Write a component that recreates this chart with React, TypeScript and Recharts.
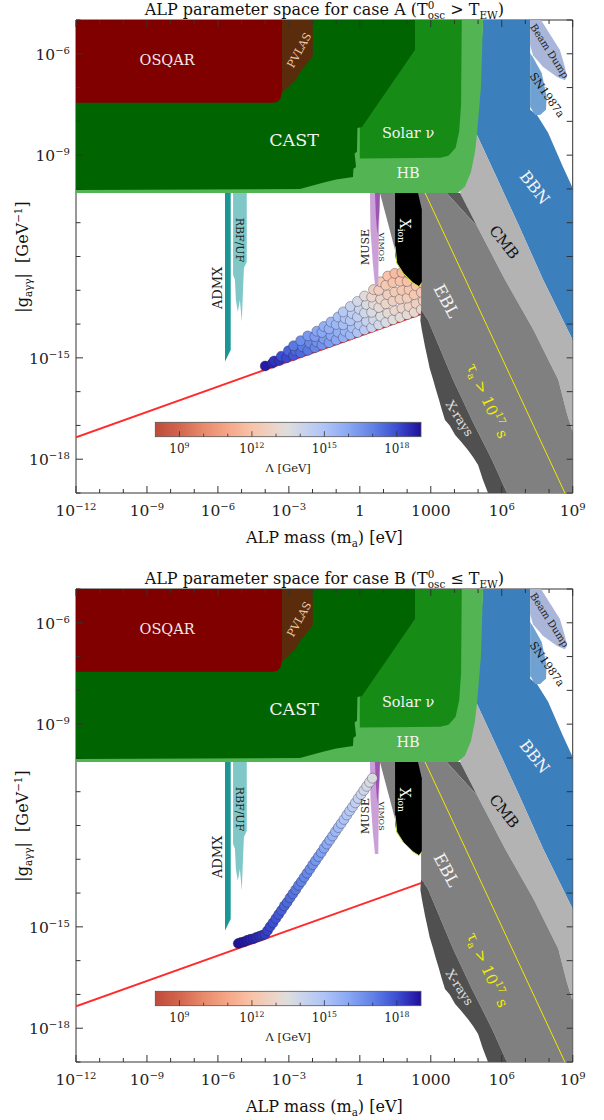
import React from 'react';
import { ScatterChart, Scatter, XAxis, YAxis, ReferenceLine } from 'recharts';

// all values are log10: x = log10(m_a / eV), y = log10(|g| / GeV^-1)
type Pt = [number, number];
type Dot = [number, number, number]; // log m, log g, log Lambda

const X_TICKS = [-12, -11, -10, -9, -8, -7, -6, -5, -4, -3, -2, -1, 0, 1, 2, 3, 4, 5, 6, 7, 8, 9];
const Y_TICKS = [-19, -18, -17, -16, -15, -14, -13, -12, -11, -10, -9, -8, -7, -6, -5];
const X_LABELED = [-12, -9, -6, -3, 0, 3, 6, 9];
const Y_LABELED = [-18, -15, -9, -6];
const LAMBDA_TICKS = [9, 12, 15, 18];
const LAMBDA_MIN = 8;
const LAMBDA_MAX = 19;

// excluded regions
const HB: Pt[] = [[-12, -5], [5.21, -5], [5.12, -7.0], [4.96, -8.34], [4.87, -8.9], [4.7, -9.5], [4.45, -9.92], [4.15, -10.12], [-12, -10.12]];
const SOLAR: Pt[] = [[1.0, -5], [4.31, -5], [4.28, -7.5], [4.2, -8.3], [4.05, -8.78], [3.75, -9.02], [3.4, -9.08], [0.0, -9.1], [0.0, -5]];
const CAST: Pt[] = [[-12, -5], [2.33, -5], [2.33, -5.89], [0.09, -8.17], [-0.1, -8.2], [-0.12, -8.9], [-0.22, -8.95], [-0.16, -9.35], [-0.27, -9.4], [-0.29, -9.65], [-1.0, -9.72], [-1.56, -9.82], [-2.53, -10.0], [-12, -10.03]];
const OSQAR: Pt[] = [[-12, -5], [-3.29, -5], [-3.29, -7.1], [-3.36, -7.33], [-3.5, -7.43], [-3.7, -7.45], [-12, -7.45]];
const PVLAS: Pt[] = [[-3.29, -5], [-1.99, -5], [-1.99, -6.07], [-2.3, -6.35], [-2.53, -6.54], [-2.65, -6.7], [-2.78, -6.83], [-2.9, -6.88], [-3.04, -7.01], [-3.15, -7.05], [-3.29, -7.16]];
const BBN: Pt[] = [[5.21, -5], [7.2, -5], [7.2, -7.66], [7.49, -7.81], [7.96, -8.34], [8.59, -9.35], [9, -9.97], [9, -14.47], [7.75, -12.69], [6.77, -11.16], [5.84, -9.74], [4.91, -8.34], [5.05, -6.8]];
const BEAM_DUMP: Pt[] = [[7.2, -5], [7.66, -5], [8.46, -5.89], [8.67, -6.39], [8.76, -6.69], [8.67, -6.78], [8.34, -6.69], [7.75, -6.39], [7.32, -6.04], [7.2, -5.74]];
const SN1987A: Pt[] = [[7.2, -5.98], [7.32, -6.1], [7.69, -6.57], [7.9, -7.27], [7.87, -7.66], [7.62, -7.81], [7.41, -7.81], [7.2, -7.57]];
const CMB: Pt[] = [[4.7, -8.4], [4.91, -8.34], [5.84, -9.74], [6.77, -11.16], [7.75, -12.69], [9, -14.47], [9, -17.2], [8.75, -16.63], [8.39, -15.65], [7.34, -14.17], [6.14, -12.69], [4.97, -11.12], [4.24, -10.12], [4.4, -9.6]];
const STRIP: Pt[] = [[3.67, -10.12], [4.24, -10.12], [4.97, -11.12]];
const EBL: Pt[] = [[0.85, -10.12], [3.67, -10.12], [4.97, -11.12], [6.14, -12.69], [7.34, -14.17], [8.39, -15.65], [8.75, -16.63], [9, -17.2], [9, -19], [6.22, -19], [5.59, -18.02], [4.74, -16.84], [3.94, -15.65], [2.88, -13.88], [2.59, -13.58], [2.59, -12.84], [1.49, -11.81]];
const XRAYS: Pt[] = [[2.59, -13.58], [2.88, -13.88], [3.94, -15.65], [4.74, -16.84], [5.59, -18.02], [6.22, -19], [5.42, -19], [5.2, -18.6], [5.0, -18.17], [4.8, -17.95], [4.57, -17.73], [4.3, -17.5], [4.03, -17.28], [3.8, -17.0], [3.6, -16.84], [3.45, -16.5], [3.35, -16.25], [3.2, -15.9], [3.1, -15.65], [2.95, -15.3], [2.88, -15.06], [2.76, -14.68], [2.62, -14.17], [2.56, -13.9]];
const XION: Pt[] = [[1.49, -10.12], [2.46, -10.12], [2.62, -10.6], [2.62, -12.75], [2.5, -12.89], [2.25, -12.78], [1.83, -12.49], [1.56, -12.19], [1.49, -11.95]];
const XION_EDGE: Pt[] = [[1.49, -11.7], [1.56, -12.19], [1.83, -12.49], [2.25, -12.78], [2.5, -12.89], [2.62, -12.8]];
const MUSE: Pt[] = [[0.43, -10.12], [0.85, -10.12], [0.8, -11.6], [0.78, -12.84], [0.64, -12.84], [0.55, -12.2], [0.45, -11.2]];
const VIMOS: Pt[] = [[0.64, -10.12], [0.85, -10.12], [0.82, -10.7], [0.74, -11.35], [0.68, -10.8]];
const ADMX: Pt[] = [[-5.7, -10.12], [-5.46, -10.12], [-5.46, -14.77], [-5.7, -15.11]];
const RBF_UF: Pt[] = [[-5.36, -10.12], [-4.78, -10.12], [-4.78, -12.16], [-4.9, -12.34], [-4.94, -13.0], [-4.99, -13.93], [-5.07, -13.29], [-5.16, -13.64], [-5.24, -13.29], [-5.28, -12.69], [-5.36, -12.55]];

// lines
const MISALIGN_LINE: Pt[] = [[-12, -17.35], [2.85, -13.64]];
const LIFETIME_LINE: Pt[] = [[2.76, -10.12], [8.67, -19]];

// case A points
const POINTS_A: Dot[] = [
  [-4.0, -15.24, 18.8],
  [-3.7, -15.16, 18.6], [-3.62, -15.09, 18.4],
  [-3.4, -15.08, 18.4], [-3.32, -14.95, 18.0],
  [-3.1, -15.0, 18.1], [-3.02, -14.79, 17.6],
  [-2.8, -14.93, 17.8], [-2.72, -14.78, 17.5], [-2.8, -14.64, 17.2],
  [-2.5, -14.85, 17.5], [-2.42, -14.67, 17.1], [-2.5, -14.49, 16.7],
  [-2.2, -14.78, 17.2], [-2.12, -14.56, 16.8], [-2.2, -14.35, 16.4],
  [-1.9, -14.7, 16.9], [-1.82, -14.53, 16.6], [-1.9, -14.37, 16.3], [-1.82, -14.21, 16.0],
  [-1.6, -14.62, 16.6], [-1.52, -14.44, 16.3], [-1.6, -14.25, 16.0], [-1.52, -14.07, 15.7],
  [-1.3, -14.55, 16.3], [-1.22, -14.34, 16.0], [-1.3, -14.14, 15.7], [-1.22, -13.94, 15.4],
  [-1.0, -14.47, 16.0], [-0.92, -14.24, 15.7], [-1.0, -14.01, 15.4], [-0.92, -13.79, 15.1],
  [-0.7, -14.4, 15.7], [-0.62, -14.21, 15.45], [-0.7, -14.02, 15.2], [-0.62, -13.83, 14.95], [-0.7, -13.64, 14.7],
  [-0.4, -14.32, 15.4], [-0.32, -14.11, 15.1], [-0.4, -13.9, 14.8], [-0.32, -13.69, 14.5], [-0.4, -13.48, 14.2],
  [-0.1, -14.25, 15.0], [-0.02, -14.02, 14.7], [-0.1, -13.79, 14.4], [-0.02, -13.56, 14.1], [-0.1, -13.33, 13.8],
  [0.2, -14.17, 14.6], [0.28, -13.92, 14.2], [0.2, -13.67, 13.9], [0.28, -13.42, 13.6], [0.2, -13.17, 13.3],
  [0.5, -14.1, 14.2], [0.58, -13.87, 13.9], [0.5, -13.65, 13.6], [0.58, -13.42, 13.3], [0.5, -13.2, 13.0], [0.58, -12.98, 12.7],
  [0.8, -14.02, 13.9], [0.88, -13.77, 13.5], [0.8, -13.51, 13.2], [0.88, -13.26, 12.9], [0.8, -13.0, 12.6], [0.88, -12.75, 12.3],
  [1.1, -13.95, 13.6], [1.18, -13.68, 13.2], [1.1, -13.4, 12.9], [1.18, -13.13, 12.6], [1.1, -12.85, 12.3], [1.18, -12.58, 12.0],
  [1.4, -13.87, 13.4], [1.48, -13.6, 13.0], [1.4, -13.32, 12.7], [1.48, -13.05, 12.4], [1.4, -12.77, 12.1], [1.48, -12.5, 11.8],
  [1.7, -13.8, 13.3], [1.78, -13.53, 12.9], [1.7, -13.26, 12.6], [1.78, -13.0, 12.3], [1.7, -12.73, 12.0], [1.78, -12.47, 11.7],
  [2.0, -13.72, 13.2], [2.08, -13.48, 12.8], [2.0, -13.23, 12.5], [2.08, -12.98, 12.2], [2.0, -12.74, 11.9], [2.08, -12.5, 11.6],
  [2.3, -13.65, 13.1], [2.38, -13.39, 12.7], [2.3, -13.13, 12.3], [2.38, -12.87, 12.0], [2.3, -12.61, 11.7],
  [2.6, -13.57, 13.0], [2.68, -13.31, 12.6], [2.6, -13.06, 12.2], [2.68, -12.8, 11.9],
];

// case B points
const POINTS_B: Dot[] = [
  [-5.14, -15.49, 18.95], [-5.02, -15.46, 18.9], [-4.89, -15.44, 18.85], [-4.76, -15.4, 18.8], [-4.63, -15.37, 18.7],
  [-4.5, -15.35, 18.65], [-4.37, -15.31, 18.55], [-4.24, -15.28, 18.5], [-4.12, -15.25, 18.4], [-4.01, -15.22, 18.3],
  [-3.9, -15.11, 18.2], [-3.79, -14.99, 18.1], [-3.67, -14.88, 18.0], [-3.55, -14.75, 17.9], [-3.43, -14.63, 17.8],
  [-3.31, -14.51, 17.7], [-3.19, -14.38, 17.6], [-3.07, -14.27, 17.5], [-2.95, -14.14, 17.4], [-2.83, -14.02, 17.3],
  [-2.71, -13.9, 17.2], [-2.59, -13.77, 17.1], [-2.47, -13.66, 17.0], [-2.35, -13.53, 16.9], [-2.23, -13.41, 16.8],
  [-2.11, -13.29, 16.7], [-1.99, -13.16, 16.6], [-1.87, -13.04, 16.45], [-1.75, -12.92, 16.3], [-1.63, -12.8, 16.2],
  [-1.51, -12.67, 16.05], [-1.39, -12.55, 15.9], [-1.27, -12.43, 15.75], [-1.15, -12.31, 15.6], [-1.03, -12.18, 15.45],
  [-0.91, -12.06, 15.3], [-0.79, -11.94, 15.15], [-0.67, -11.82, 15.0], [-0.55, -11.69, 14.85], [-0.43, -11.57, 14.7],
  [-0.31, -11.45, 14.55], [-0.19, -11.33, 14.4], [-0.07, -11.2, 14.25], [0.05, -11.08, 14.1], [0.17, -10.96, 13.95],
  [0.29, -10.84, 13.8], [0.41, -10.72, 13.7], [0.53, -10.6, 13.6],
];

type Part = [string, 'n' | 'sub' | 'sup', number?];
type Lab = { x: number; y: number; parts: Part[]; size: number; fill: string; rot: number };

const LABELS: Lab[] = [
  { x: -8.15, y: -6.18, parts: [['OSQAR', 'n']], size: 14.5, fill: '#f3e8e8', rot: 0 },
  { x: -2.57, y: -5.89, parts: [['PVLAS', 'n']], size: 11, fill: '#e8c9a6', rot: -61 },
  { x: -2.78, y: -8.55, parts: [['CAST', 'n']], size: 17.5, fill: '#f4f4f4', rot: 0 },
  { x: 2.04, y: -8.34, parts: [['Solar ν', 'n']], size: 14.5, fill: '#f4f4f4', rot: 0 },
  { x: 2.04, y: -9.53, parts: [['HB', 'n']], size: 14.5, fill: '#f4f4f4', rot: 0 },
  { x: 7.41, y: -9.95, parts: [['BBN', 'n']], size: 16, fill: '#f4f4f4', rot: 52 },
  { x: 8.04, y: -5.91, parts: [['Beam Dump', 'n']], size: 10, fill: '#222', rot: 57 },
  { x: 7.93, y: -7.22, parts: [['SN1987a', 'n']], size: 11, fill: '#111', rot: 55 },
  { x: 6.1, y: -11.58, parts: [['CMB', 'n']], size: 15, fill: '#111', rot: 52 },
  { x: 3.67, y: -13.31, parts: [['EBL', 'n']], size: 16.5, fill: '#f4f4f4', rot: 62 },
  { x: 5.39, y: -16.27, parts: [['τ', 'n'], ['a', 'sub'], [' > 10', 'n'], ['17', 'sup'], [' s', 'n']], size: 15, fill: '#f5ee00', rot: 66 },
  { x: 4.24, y: -16.78, parts: [['X-rays', 'n']], size: 12.5, fill: '#e0e0e0', rot: 57 },
  { x: 1.91, y: -11.24, parts: [['X', 'n'], ['ion', 'sub']], size: 14, fill: '#ffffff', rot: 90 },
  { x: 0.22, y: -11.72, parts: [['MUSE', 'n']], size: 11, fill: '#222', rot: -90 },
  { x: 0.94, y: -11.72, parts: [['VIMOS', 'n']], size: 8, fill: '#222', rot: 90 },
  { x: -6.04, y: -12.93, parts: [['ADMX', 'n']], size: 13, fill: '#222', rot: -90 },
  { x: -5.07, y: -11.51, parts: [['RBF/UF', 'n']], size: 11, fill: '#222', rot: 90 },
];

const W = 604;
const H = 551;
const MARGIN = { top: 20, right: 31.3, bottom: 0, left: 0 };
const Y_AXIS_W = 76;
const X_AXIS_H = 58;
const PLOT_W = W - Y_AXIS_W - MARGIN.right;
const PLOT_H = H - MARGIN.top - X_AXIS_H;
const PLOT_CX = Y_AXIS_W + PLOT_W / 2;
const FONT = "'DejaVu Serif', serif";
const INK = '#222';

// colormap for Lambda
const CMAP: [number, string][] = [
  [8, '#bf4a3a'], [9, '#d2664e'], [10, '#e88a6c'], [11, '#f5a788'], [12, '#f8c3a8'],
  [13, '#ead6cc'], [13.5, '#dddddd'], [14, '#cdd5ea'], [15, '#aec4f6'], [16, '#89a7f3'],
  [17, '#6182e6'], [18, '#3c4ed2'], [19, '#1e0e9b'],
];

const hex = (c: string) => [1, 3, 5].map((i) => parseInt(c.slice(i, i + 2), 16));

function lamColor(l: number) {
  if (l <= CMAP[0][0]) return CMAP[0][1];
  for (let i = 1; i < CMAP.length; i++) {
    if (l <= CMAP[i][0]) {
      const [l0, c0] = CMAP[i - 1];
      const [l1, c1] = CMAP[i];
      const t = (l - l0) / (l1 - l0);
      const a = hex(c0);
      const b = hex(c1);
      const m = a.map((v, k) => Math.round(v + (b[k] - v) * t));
      return `rgb(${m[0]},${m[1]},${m[2]})`;
    }
  }
  return CMAP[CMAP.length - 1][1];
}

function rich(parts: Part[], size: number) {
  let shift = 0;
  return parts.map(([t, k, dx], i) => {
    const target = k === 'sub' ? size * 0.28 : k === 'sup' ? -size * 0.4 : 0;
    const dy = target - shift;
    shift = target;
    return (
      <tspan key={i} dx={dx} dy={dy} fontSize={k === 'n' ? size : size * 0.65}>
        {t}
      </tspan>
    );
  });
}

const powParts = (v: number): Part[] =>
  v === 0 ? [['1', 'n']] : v === 3 ? [['1000', 'n']] : [['10', 'n'], [(v < 0 ? '−' : '') + Math.abs(v), 'sup']];

const toXY = (pts: Pt[]) => pts.map(([x, y]) => ({ x, y }));
const toDots = (pts: Dot[]) => pts.map(([x, y, lam]) => ({ x, y, lam }));

const noDot = () => <g />;

const polygon = (fill: string) => (p: any) => {
  const pts = p.points || [];
  const d = pts.map((q: any, i: number) => `${i ? 'L' : 'M'}${q.x},${q.y}`).join('') + 'Z';
  return <path d={d} fill={fill} stroke="none" />;
};

const polyline = (stroke: string, width: number) => (p: any) => {
  const pts = p.points || [];
  const d = pts.map((q: any, i: number) => `${i ? 'L' : 'M'}${q.x},${q.y}`).join('');
  return <path d={d} fill="none" stroke={stroke} strokeWidth={width} />;
};

const dotShape = (p: any) => (
  <circle cx={p.cx} cy={p.cy} r={5} fill={lamColor(p.payload.lam)} stroke="rgba(30,30,50,0.55)" strokeWidth={0.6} />
);

const labelShape = (p: any) => {
  const d = p.payload as Lab;
  return (
    <text
      x={p.cx}
      y={p.cy}
      transform={`rotate(${d.rot} ${p.cx} ${p.cy})`}
      textAnchor="middle"
      dominantBaseline="central"
      fontFamily={FONT}
      fontSize={d.size}
      fill={d.fill}
      style={{ whiteSpace: 'pre' }}
    >
      {rich(d.parts, d.size)}
    </text>
  );
};

function BottomTick(props: any) {
  const { x, y, payload } = props;
  const v = payload.value;
  const major = X_LABELED.includes(v);
  const len = major ? 7 : 4;
  const top = y - PLOT_H;
  return (
    <g>
      <line x1={x} x2={x} y1={y} y2={y - len} stroke="#333" />
      <line x1={x} x2={x} y1={top} y2={top + len} stroke="#333" />
      {major && (
        <text x={x} y={y + 23} textAnchor="middle" fontFamily={FONT} fontSize={15.5} fill={INK} style={{ whiteSpace: 'pre' }}>
          {rich(powParts(v), 15.5)}
        </text>
      )}
    </g>
  );
}

function LeftTick(props: any) {
  const { x, y, payload } = props;
  const v = payload.value;
  const major = Y_LABELED.includes(v);
  const len = major ? 7 : 4.5;
  const right = x + PLOT_W;
  return (
    <g>
      <line x1={x} x2={x + len} y1={y} y2={y} stroke="#333" />
      <line x1={right} x2={right - 6} y1={y} y2={y} stroke="#333" />
      {major && (
        <text x={x - 6} y={y + 6} textAnchor="end" fontFamily={FONT} fontSize={15.5} fill={INK} style={{ whiteSpace: 'pre' }}>
          {rich(powParts(v), 15.5)}
        </text>
      )}
    </g>
  );
}

function region(key: string, pts: Pt[], fill: string) {
  return <Scatter key={key} data={toXY(pts)} shape={noDot} line={polygon(fill)} isAnimationActive={false} />;
}

function line(key: string, pts: Pt[], stroke: string, width: number) {
  return <Scatter key={key} data={toXY(pts)} shape={noDot} line={polyline(stroke, width)} isAnimationActive={false} />;
}

const CB = { x0: 155.3, x1: 421, y0: 422.3, y1: 436.7 };
const cbx = (l: number) => CB.x0 + ((l - LAMBDA_MIN) / (LAMBDA_MAX - LAMBDA_MIN)) * (CB.x1 - CB.x0);

function Overlay({ title, gid }: { title: Part[]; gid: string }) {
  const minor: number[] = [];
  for (let l = LAMBDA_MIN + 1; l < LAMBDA_MAX; l++) minor.push(l);
  return (
    <svg width={W} height={H} style={{ position: 'absolute', left: 0, top: 0, pointerEvents: 'none' }}>
      <defs>
        <linearGradient id={gid} x1="0" x2="1" y1="0" y2="0">
          {CMAP.map(([l, c]) => (
            <stop key={l} offset={(l - LAMBDA_MIN) / (LAMBDA_MAX - LAMBDA_MIN)} stopColor={c} />
          ))}
        </linearGradient>
      </defs>
      <text x={PLOT_CX} y={15} textAnchor="middle" fontFamily={FONT} fontSize={16} fill="#111" style={{ whiteSpace: 'pre' }}>
        {rich(title, 16)}
      </text>
      <text x={PLOT_CX} y={543} textAnchor="middle" fontFamily={FONT} fontSize={16} fill="#111" style={{ whiteSpace: 'pre' }}>
        {rich([['ALP mass (m', 'n'], ['a', 'sub'], [') [eV]', 'n']], 16)}
      </text>
      <text transform="translate(28 257) rotate(-90)" textAnchor="middle" fontFamily={FONT} fontSize={16} fill="#111" style={{ whiteSpace: 'pre' }}>
        {rich([['|g', 'n'], ['aγγ', 'sub'], ['|  [GeV', 'n'], ['−1', 'sup'], [']', 'n']], 16)}
      </text>
      <rect x={CB.x0} y={CB.y0} width={CB.x1 - CB.x0} height={CB.y1 - CB.y0} fill={`url(#${gid})`} stroke="#555" strokeWidth={0.8} />
      {minor.map((l) => {
        const major = LAMBDA_TICKS.includes(l);
        return <line key={l} x1={cbx(l)} x2={cbx(l)} y1={CB.y1} y2={CB.y1 - (major ? 5.5 : 3)} stroke="#333" strokeWidth={0.8} />;
      })}
      {LAMBDA_TICKS.map((l) => (
        <text key={l} x={cbx(l)} y={453} textAnchor="middle" fontFamily={FONT} fontSize={12} fill={INK}>
          {rich([['10', 'n'], [String(l), 'sup']], 12)}
        </text>
      ))}
      <text x={(CB.x0 + CB.x1) / 2} y={472} textAnchor="middle" fontFamily={FONT} fontSize={11.5} fill={INK}>
        Λ [GeV]
      </text>
    </svg>
  );
}

function Panel({ top, title, points, gid, dotsOverMuse }: { top: number; title: Part[]; points: Dot[]; gid: string; dotsOverMuse: boolean }) {
  const dots = <Scatter key="dots" data={toDots(points)} shape={dotShape} isAnimationActive={false} />;
  return (
    <div style={{ position: 'absolute', left: 0, top, width: W, height: H }}>
      <ScatterChart width={W} height={H} margin={MARGIN}>
        {region('bbn', BBN, '#3b7fbd')}
        {region('beam', BEAM_DUMP, '#a9b6d9')}
        {region('sn', SN1987A, '#6fa2d2')}
        {region('cmb', CMB, '#b3b3b3')}
        {region('strip', STRIP, '#5a5a5a')}
        {line('red', MISALIGN_LINE, '#ff2a2a', 2)}
        {!dotsOverMuse && dots}
        {region('muse', MUSE, '#c9a0d8')}
        {region('vimos', VIMOS, '#9c55b0')}
        {dotsOverMuse && dots}
        {region('ebl', EBL, '#808080')}
        {region('xrays', XRAYS, '#505050')}
        {region('xion', XION, '#000000')}
        {line('xionEdge', XION_EDGE, '#c5e03a', 1)}
        {region('admx', ADMX, '#1a9696')}
        {region('rbf', RBF_UF, '#80c8c8')}
        {region('hb', HB, '#52b452')}
        {region('solar', SOLAR, '#168c16')}
        {region('cast', CAST, '#006400')}
        {region('osqar', OSQAR, '#800000')}
        {region('pvlas', PVLAS, '#5a2c0c')}
        {line('tau', LIFETIME_LINE, '#f0e800', 1)}
        <Scatter data={LABELS} shape={labelShape} isAnimationActive={false} />
        <ReferenceLine y={-5} stroke="#333" />
        <ReferenceLine x={9} stroke="#333" />
        <XAxis
          type="number"
          dataKey="x"
          domain={[-12, 9]}
          ticks={X_TICKS}
          interval={0}
          allowDataOverflow
          height={X_AXIS_H}
          tickSize={0}
          tickMargin={0}
          tickLine={false}
          tick={BottomTick}
          axisLine={{ stroke: '#333' }}
        />
        <YAxis
          type="number"
          dataKey="y"
          domain={[-19, -5]}
          ticks={Y_TICKS}
          interval={0}
          allowDataOverflow
          width={Y_AXIS_W}
          tickSize={0}
          tickMargin={0}
          tickLine={false}
          tick={LeftTick}
          axisLine={{ stroke: '#333' }}
        />
      </ScatterChart>
      <Overlay title={title} gid={gid} />
    </div>
  );
}

const TITLE_A: Part[] = [['ALP parameter space for case A (T', 'n'], ['0', 'sup'], ['osc', 'sub', -6.6], [' > T', 'n'], ['EW', 'sub'], [')', 'n']];
const TITLE_B: Part[] = [['ALP parameter space for case B (T', 'n'], ['0', 'sup'], ['osc', 'sub', -6.6], [' ≤ T', 'n'], ['EW', 'sub'], [')', 'n']];

export default function App() {
  return (
    <div style={{ position: 'relative', width: W, height: 1120, overflow: 'hidden', background: '#fff' }}>
      <style>{'body{margin:0}'}</style>
      <Panel top={0} title={TITLE_A} points={POINTS_A} gid="cbA" dotsOverMuse={false} />
      <Panel top={569} title={TITLE_B} points={POINTS_B} gid="cbB" dotsOverMuse={true} />
    </div>
  );
}
